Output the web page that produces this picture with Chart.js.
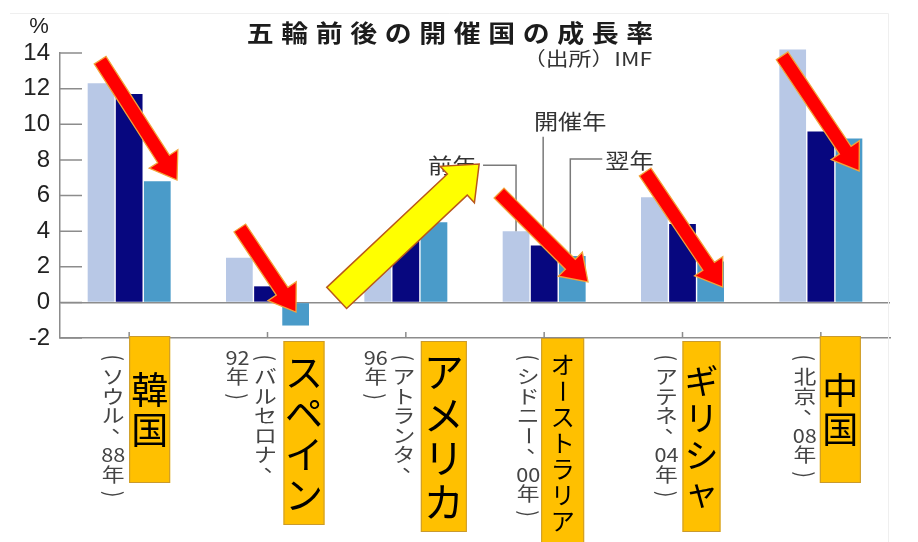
<!DOCTYPE html>
<html>
<head>
<meta charset="utf-8">
<script src="https://cdn.jsdelivr.net/npm/chart.js@4/dist/chart.umd.min.js"></script>
<style>
html,body{margin:0;padding:0;background:#fff;}
#wrap{width:918px;height:542px;position:relative;overflow:hidden;}
canvas{display:block;}
</style>
</head>
<body>
<div id="wrap"><canvas id="c" width="918" height="542"></canvas></div>
<script>
// ---------- data ----------
const countries = ['韓国', 'スペイン', 'アメリカ', 'オーストラリア', 'ギリシャ', '中国'];
const cities = [
  ['(ソウル、88年)'],
  ['(バルセロナ、', '92年)'],
  ['(アトランタ、', '96年)'],
  ['(シドニー、00年)'],
  ['(アテネ、04年)'],
  ['(北京、08年)']
];
const seriesNames = ['前年', '開催年', '翌年'];
const prevYear = [12.3, 2.5, 2.7, 4.0, 5.9, 14.2];
const hostYear = [11.7, 0.9, 3.8, 3.2, 4.4, 9.6];
const nextYear = [6.8, -1.3, 4.5, 2.6, 2.3, 9.2];
const yTicks = [-2, 0, 2, 4, 6, 8, 10, 12, 14];
const titleText = '五輪前後の開催国の成長率';
const sourceText = '（出所）IMF';
const unitText = '%';

// ---------- annotation layout (data units: [category index, value]) ----------
const redArrows = [
  [[-0.21, 13.6], [0.346, 6.87]],
  [[0.80, 4.18], [1.206, -0.54]],
  [[2.674, 6.14], [3.317, 1.15]],
  [[3.73, 7.32], [4.29, 0.86]],
  [[4.72, 13.84], [5.277, 7.38]]
];
const yellowArrow = [[1.50, 0.25], [2.53, 7.77]];
const calloutIndex = 3;
const boxLayout = [
  {dx: 0,  w: 41, top: 336, bottom: 483, size: 37},
  {dx: 16, w: 41, top: 341, bottom: 525, size: 38},
  {dx: 15, w: 46, top: 341, bottom: 532, size: 40},
  {dx: -3, w: 43, top: 338, bottom: 548, size: 24},
  {dx: 0,  w: 38, top: 341, bottom: 532, size: 34},
  {dx: -1, w: 41, top: 336, bottom: 483, size: 36}
];

const JP = '"Noto Sans CJK JP", "Noto Sans CJK SC", sans-serif';
const GRAY = '#8c8c8c';

function tokens(s) {
  const out = []; let i = 0;
  while (i < s.length) {
    if (/[0-9]/.test(s[i])) { let j = i; while (j < s.length && /[0-9]/.test(s[j])) j++; out.push(s.slice(i, j)); i = j; }
    else { out.push(s[i]); i++; }
  }
  return out;
}

function vtext(ctx, s, cx, top, cell, size, color, sx) {
  tokens(s).forEach((t, k) => {
    const cy = top + cell * (k + 0.5);
    ctx.save();
    ctx.translate(cx, cy);
    ctx.font = `normal ${size}px ${JP}`;
    ctx.fillStyle = color;
    ctx.textAlign = 'center';
    ctx.textBaseline = 'middle';
    if ('()ー'.includes(t)) {
      ctx.scale(sx, 1);
      ctx.rotate(Math.PI / 2);
    } else if (t === '、') {
      ctx.translate(size * 0.5, -size * 0.5);
      ctx.scale(sx, 1);
    } else if (/^[0-9]+$/.test(t)) {
      ctx.scale(sx * 0.95, 1);
    } else {
      ctx.scale(sx, 1);
    }
    ctx.fillText(t, 0, 0);
    ctx.restore();
  });
}

function htext(ctx, s, x, y, size, opt) {
  ctx.save();
  ctx.font = `${opt.weight || 'normal'} ${size}px ${opt.family || JP}`;
  ctx.fillStyle = opt.color || '#333';
  ctx.textBaseline = 'middle';
  ctx.textAlign = opt.align || 'left';
  ctx.translate(x, y);
  ctx.scale(opt.sx || 1, 1);
  ctx.fillText(s, 0, 0);
  ctx.restore();
}

function arrow(ctx, x1, y1, x2, y2, sw, hw, hl, fill, stroke, lw) {
  const dx = x2 - x1, dy = y2 - y1, L = Math.hypot(dx, dy);
  const ux = dx / L, uy = dy / L, nx = -uy, ny = ux;
  const bx = x2 - ux * hl, by = y2 - uy * hl;
  ctx.save();
  ctx.beginPath();
  ctx.moveTo(x1 + nx * sw / 2, y1 + ny * sw / 2);
  ctx.lineTo(bx + nx * sw / 2, by + ny * sw / 2);
  ctx.lineTo(bx + nx * hw / 2, by + ny * hw / 2);
  ctx.lineTo(x2, y2);
  ctx.lineTo(bx - nx * hw / 2, by - ny * hw / 2);
  ctx.lineTo(bx - nx * sw / 2, by - ny * sw / 2);
  ctx.lineTo(x1 - nx * sw / 2, y1 - ny * sw / 2);
  ctx.closePath();
  ctx.fillStyle = fill; ctx.fill();
  ctx.lineJoin = 'miter';
  ctx.strokeStyle = stroke; ctx.lineWidth = lw; ctx.stroke();
  ctx.restore();
}

const annot = {
  id: 'annot',
  afterDatasetsDraw(chart) {
    const ctx = chart.ctx, x = chart.scales.x, y = chart.scales.y, a = chart.chartArea;
    const P = (p) => [x.getPixelForValue(p[0]), y.getPixelForValue(p[1])];

    // faint frame of the original picture
    ctx.save();
    ctx.strokeStyle = '#efefef'; ctx.lineWidth = 1;
    ctx.beginPath(); ctx.moveTo(10, 13.5); ctx.lineTo(888.5, 13.5); ctx.lineTo(888.5, 542); ctx.stroke();
    ctx.restore();

    // inner tick marks
    ctx.save();
    ctx.strokeStyle = GRAY; ctx.lineWidth = 1.5;
    ctx.beginPath();
    yTicks.forEach(v => { const py = y.getPixelForValue(v); ctx.moveTo(a.left, py); ctx.lineTo(a.left + 22, py); });
    countries.forEach((c, i) => { const px = x.getPixelForValue(i); ctx.moveTo(px, a.bottom); ctx.lineTo(px, a.bottom - 6); });
    ctx.stroke();
    ctx.restore();

    // callouts for the three series
    const b0 = chart.getDatasetMeta(0).data[calloutIndex];
    const b1 = chart.getDatasetMeta(1).data[calloutIndex];
    const b2 = chart.getDatasetMeta(2).data[calloutIndex];
    ctx.save();
    ctx.strokeStyle = '#7a7a7a'; ctx.lineWidth = 1.5;
    ctx.beginPath();
    const y0 = y.getPixelForValue(7.7);
    ctx.moveTo(b0.x - 33, y0); ctx.lineTo(b0.x, y0); ctx.lineTo(b0.x, b0.y);
    ctx.moveTo(b1.x - 1, y.getPixelForValue(9.3)); ctx.lineTo(b1.x - 1, b1.y);
    const y2 = y.getPixelForValue(8.05);
    ctx.moveTo(b2.x + 30, y2); ctx.lineTo(b2.x - 2, y2); ctx.lineTo(b2.x - 2, b2.y);
    ctx.stroke();
    ctx.restore();
    htext(ctx, seriesNames[0], b0.x - 88, y0, 21, {color: '#333', sx: 1.15});
    htext(ctx, seriesNames[1], b1.x + 26, y.getPixelForValue(10.2), 21, {color: '#333', sx: 1.15, align: 'center'});
    htext(ctx, seriesNames[2], b2.x + 33, y.getPixelForValue(8.0), 21, {color: '#333', sx: 1.15});

    // arrows
    redArrows.forEach(ar => {
      const p1 = P(ar[0]), p2 = P(ar[1]);
      arrow(ctx, p1[0], p1[1], p2[0], p2[1], 14, 34, 25, '#FF0000', '#F2A33A', 1.3);
    });
    const q1 = P(yellowArrow[0]), q2 = P(yellowArrow[1]);
    arrow(ctx, q1[0], q1[1], q2[0], q2[1], 29, 50, 30, '#FFFF00', '#B9581A', 1.5);
  },
  afterDraw(chart) {
    const ctx = chart.ctx, x = chart.scales.x;
    // title, source, unit
    const chars = [...titleText];
    const adv = 34.5, start = 450 - adv * (chars.length - 1) / 2;
    chars.forEach((c, i) => htext(ctx, c, start + adv * i, 33, 24, {weight: 'bold', color: '#1c1c1c', sx: 1.12, align: 'center'}));
    htext(ctx, sourceText, 652, 59, 19, {color: '#333', sx: 1.2, align: 'right'});
    htext(ctx, unitText, 39, 27, 22, {family: '"Liberation Sans", Arial, sans-serif', color: '#222', align: 'center'});

    // category labels: city (gray vertical) and country (orange box)
    countries.forEach((name, i) => {
      const cx = x.getPixelForValue(i);
      const cols = cities[i];
      cols.forEach((col, k) => {
        const colX = cx - 16 + (cols.length - 1) * 14 - k * 28;
        vtext(ctx, col, colX, 348, 19.5, 19, '#444', 1.2);
      });
      const b = boxLayout[i];
      const bx = cx + b.dx;
      ctx.save();
      ctx.fillStyle = '#FFC000';
      ctx.strokeStyle = '#C99A2E';
      ctx.lineWidth = 1;
      ctx.fillRect(bx, b.top, b.w, b.bottom - b.top);
      ctx.strokeRect(bx + 0.5, b.top + 0.5, b.w - 1, b.bottom - b.top - 1);
      ctx.restore();
      const n = [...name].length, advc = b.size * 1.08;
      const top = (b.top + b.bottom) / 2 - advc * n / 2;
      vtext(ctx, name, bx + b.w / 2, top, advc, b.size, '#000', 1.0);
    });
  }
};

new Chart(document.getElementById('c'), {
  type: 'bar',
  data: {
    labels: countries,
    datasets: [
      {label: seriesNames[0], data: prevYear, backgroundColor: '#B8C8E6', clip: false},
      {label: seriesNames[1], data: hostYear, backgroundColor: '#07077F', clip: false},
      {label: seriesNames[2], data: nextYear, backgroundColor: '#4A9BC9', clip: false}
    ]
  },
  options: {
    responsive: false,
    animation: false,
    devicePixelRatio: 1,
    layout: {padding: {top: 53, right: 28, bottom: 0, left: 0}},
    plugins: {legend: {display: false}, tooltip: {enabled: false}, title: {display: false}},
    datasets: {bar: {categoryPercentage: 0.61, barPercentage: 0.95}},
    scales: {
      x: {
        grid: {display: false},
        border: {display: true, color: GRAY, width: 1.5},
        ticks: {display: false},
        afterFit: s => { s.height = 204; }
      },
      y: {
        min: -2, max: 14,
        afterBuildTicks: s => { s.ticks = yTicks.map(v => ({value: v})); },
        ticks: {font: {family: '"Liberation Sans", Arial, sans-serif', size: 24}, color: '#222', padding: 10},
        grid: {drawTicks: false, lineWidth: 1.5, color: c => (c.tick && c.tick.value === 0) ? GRAY : 'rgba(0,0,0,0)'},
        border: {display: true, color: GRAY, width: 1.5},
        afterFit: s => { s.width = 60; }
      }
    }
  },
  plugins: [annot]
});
</script>
</body>
</html>
